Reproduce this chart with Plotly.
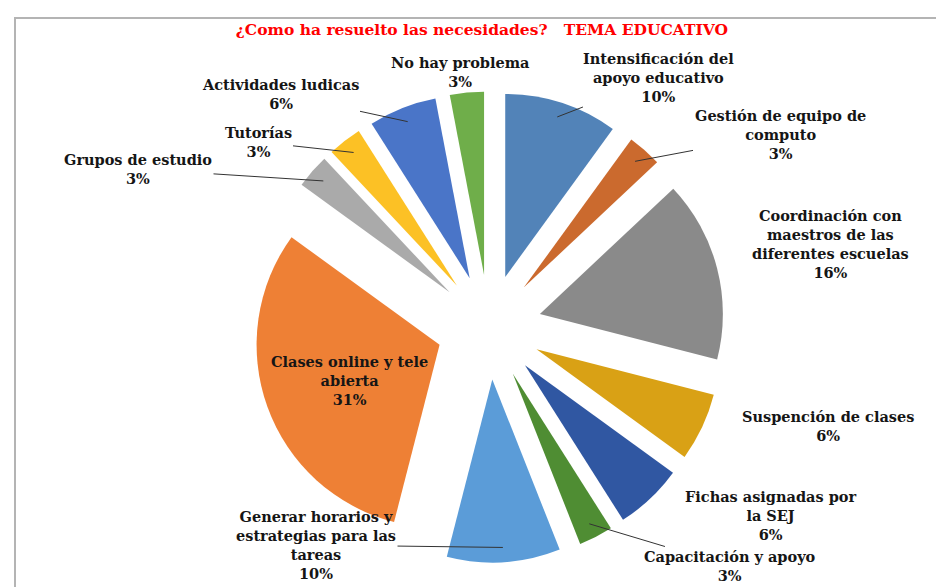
import math
import plotly.graph_objects as go

# ---- data (percent of responses) ----
categories = [
    "Intensificación del<br>apoyo educativo",
    "Gestión de equipo de<br>computo",
    "Coordinación con<br>maestros de las<br>diferentes escuelas",
    "Suspención de clases",
    "Fichas asignadas por<br>la SEJ",
    "Capacitación y apoyo",
    "Generar horarios y<br>estrategias para las<br>tareas",
    "Clases online y tele<br>abierta",
    "Grupos de estudio",
    "Tutorías",
    "Actividades ludicas",
    "No hay problema",
]
values = [10, 3, 16, 6, 6, 3, 10, 31, 3, 3, 6, 3]

# ---- styling / layout ----
colors = [
    "#5283b8", "#cb6a2e", "#8a8a8a", "#d9a115", "#3057a2", "#4f8d33",
    "#5b9cd8", "#ee8035", "#aaaaaa", "#fcc125", "#4a75c8", "#6fae4a",
]
W, H = 944, 587
PIE_CX, PIE_CY = 481, 319      # pie centre in pixels
PIE_R = 183                    # pie radius in pixels
PULL = 0.287                   # explosion, fraction of radius

# label centres (pixels) and whether a leader line is drawn
label_centres = [
    (650, 70), (772, 126), (822, 236), (820, 418), (762, 507), (722, 558),
    (308, 537), (341, 372), (130, 161), (250, 134), (272, 86), (452, 64),
]
leader = [True, True, False, False, False, True, True, False, True, True, True, False]

label_font = dict(family="DejaVu Serif", size=14.5, color="#151515", weight="bold")

box_h = PIE_R * (2 + 2 * PULL)
box_w = 760
domain_x = [(PIE_CX - box_w / 2) / W, (PIE_CX + box_w / 2) / W]
domain_y = [(H - (PIE_CY + box_h / 2)) / H, (H - (PIE_CY - box_h / 2)) / H]

fig = go.Figure(
    go.Pie(
        labels=categories,
        values=values,
        sort=False,
        direction="clockwise",
        rotation=0,
        pull=[PULL] * len(values),
        marker=dict(colors=colors, line=dict(width=0)),
        textinfo="none",
        automargin=False,
        domain=dict(x=domain_x, y=domain_y),
        showlegend=False,
        hoverinfo="label+percent",
    )
)

# labels anchored on each exploded slice at its mid angle
total = sum(values)
annotations = []
cum = 0.0
for i, v in enumerate(values):
    mid = (cum + v / 2) / total * 2 * math.pi
    cum += v
    dist = PULL * PIE_R + 0.92 * PIE_R
    ax_px = PIE_CX + dist * math.sin(mid)
    ay_px = PIE_CY - dist * math.cos(mid)
    tx, ty = label_centres[i]
    pct = round(v / total * 100)
    annotations.append(
        dict(
            x=ax_px / W,
            y=1 - ay_px / H,
            xref="paper",
            yref="paper",
            text=f"{categories[i]}<br>{pct}%",
            showarrow=True,
            arrowhead=0,
            arrowwidth=1,
            arrowcolor="#333333" if leader[i] else "rgba(0,0,0,0)",
            ax=tx - ax_px,
            ay=ty - ay_px,
            font=label_font,
            align="center",
        )
    )

fig.update_layout(
    width=W,
    height=H,
    margin=dict(l=0, r=0, t=0, b=0, autoexpand=False),
    paper_bgcolor="white",
    plot_bgcolor="white",
    title=dict(
        text="¿Como ha resuelto las necesidades?\u00a0\u00a0\u00a0TEMA EDUCATIVO",
        font=dict(family="DejaVu Serif", size=15.5, color="#ff0000", weight="bold"),
        x=0.502,
        xanchor="center",
        y=0.963,
        yanchor="middle",
    ),
    annotations=annotations,
    shapes=[
        dict(
            type="rect",
            xref="paper",
            yref="paper",
            x0=7 / W,
            x1=1.05,
            y0=-0.05,
            y1=1 - 10 / H,
            line=dict(color="#b4b4b4", width=2),
            fillcolor="rgba(0,0,0,0)",
            layer="below",
        )
    ],
)

fig.write_html("out.html")
